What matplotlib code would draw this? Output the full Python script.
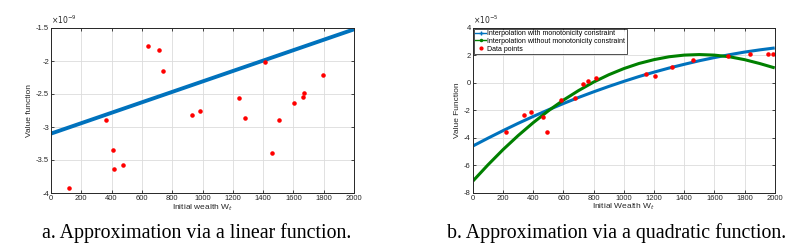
import matplotlib as mpl
mpl.use('Agg')
import numpy as np
import matplotlib.pyplot as plt
from matplotlib.ticker import FuncFormatter

plt.rcParams['font.family'] = ['Liberation Sans', 'DejaVu Sans']
plt.rcParams['axes.unicode_minus'] = False

# ---- panel a: linear approximation (values in units of 1e-9)
wa = [121, 361, 409, 414, 475, 638, 713, 741, 933, 981,
      1239, 1283, 1412, 1461, 1505, 1604, 1663, 1672, 1797]
va = [-3.92, -2.89, -3.35, -3.64, -3.57, -1.77, -1.84, -2.15, -2.82, -2.75,
      -2.56, -2.87, -2.01, -3.39, -2.89, -2.63, -2.54, -2.48, -2.21]
lin_w = [0, 2000]
lin_v = [-3.10, -1.52]

# ---- panel b: quadratic approximation (values in units of 1e-5)
wb = [219, 340, 385, 464, 488, 586, 674, 731, 762, 815,
      1145, 1204, 1319, 1456, 1693, 1834, 1953, 1991]
vb = [-3.59, -2.33, -2.11, -2.50, -3.61, -1.26, -1.09, -0.07, 0.12, 0.32,
      0.61, 0.51, 1.14, 1.62, 1.92, 2.06, 2.11, 2.11]
fit_w = [0, 100, 200, 300, 400, 500, 600, 700, 800, 900, 1000,
         1100, 1200, 1300, 1400, 1500, 1600, 1700, 1800, 1900, 2000]
mono_v = [-4.60, -4.03, -3.48, -2.95, -2.45, -1.97, -1.51, -1.07, -0.66, -0.27,
          0.10, 0.45, 0.77, 1.07, 1.34, 1.60, 1.83, 2.04, 2.23, 2.39, 2.53]
free_v = [-7.15, -5.97, -4.86, -3.84, -2.90, -2.04, -1.26, -0.57, 0.05, 0.58,
          1.03, 1.40, 1.68, 1.89, 2.01, 2.05, 2.01, 1.89, 1.68, 1.40, 1.08]

blue = '#0072BD'
green = '#008000'
red = '#FF0000'
axcol = '#262626'
fs = 5.5

fig = plt.figure(figsize=(8.07, 2.5), dpi=100)
ax1 = fig.add_axes([0.0632, 0.228, 0.3755, 0.66])
ax2 = fig.add_axes([0.586, 0.229, 0.374, 0.66])

def style(ax):
    ax.grid(True, color='#dcdcdc', linewidth=0.6)
    ax.set_axisbelow(True)
    ax.tick_params(direction='in', top=True, right=True, length=2.5,
                   width=0.6, labelsize=fs, colors=axcol, pad=1.5)
    for s in ax.spines.values():
        s.set_linewidth(0.7)
        s.set_color(axcol)

fmt = FuncFormatter(lambda v, p: '%g' % v)

# panel a
ax1.plot(lin_w, lin_v, color=blue, linewidth=2.8, solid_capstyle='butt')
ax1.plot(wa, va, '.', color=red, markersize=4.5)
ax1.set_xlim(0, 2000)
ax1.set_ylim(-4, -1.5)
ax1.set_xticks(np.arange(0, 2001, 200))
ax1.set_yticks([-4, -3.5, -3, -2.5, -2, -1.5])
ax1.yaxis.set_major_formatter(fmt)
style(ax1)
ax1.set_xlabel('Initial wealth W$_t$', fontsize=6, color=axcol, labelpad=0)
ax1.set_ylabel('Value function', fontsize=6, color=axcol, labelpad=2)
ax1.text(0.0, 1.01, r'$\times 10^{-9}$', transform=ax1.transAxes,
         fontsize=5.5, color=axcol, ha='left', va='bottom')

# panel b
ax2.plot(fit_w, mono_v, color=blue, linewidth=2.2, solid_capstyle='butt')
ax2.plot(fit_w, free_v, color=green, linewidth=2.2, solid_capstyle='butt')
ax2.plot(wb, vb, '.', color=red, markersize=4.5)
ax2.set_xlim(0, 2000)
ax2.set_ylim(-8, 4)
ax2.set_xticks(np.arange(0, 2001, 200))
ax2.set_yticks(np.arange(-8, 5, 2))
ax2.yaxis.set_major_formatter(fmt)
style(ax2)
ax2.set_xlabel('Initial Wealth W$_t$', fontsize=6, color=axcol, labelpad=0)
ax2.set_ylabel('Value Function', fontsize=6, color=axcol, labelpad=2)
ax2.text(0.0, 1.01, r'$\times 10^{-5}$', transform=ax2.transAxes,
         fontsize=5.5, color=axcol, ha='left', va='bottom')

labels = ['Interpolation with monotonicity constraint',
          'Interpolation without monotonicity constraint',
          'Data points']
leg = ax2.legend(handles=[plt.Line2D([], [], color=blue, lw=1, marker='+', ms=3),
                          plt.Line2D([], [], color=green, lw=1, marker='.', ms=3),
                          plt.Line2D([], [], color=red, lw=0, marker='.', ms=4)],
                 labels=labels, loc='upper left', fontsize=5, frameon=True,
                 fancybox=False, edgecolor='black', borderpad=0.2,
                 labelspacing=0.1, handlelength=1.5, handletextpad=0.2,
                 borderaxespad=0.15)
leg.get_frame().set_linewidth(0.6)

fig.text(0.244, 0.066, 'a. Approximation via a linear function.',
         family=['Liberation Serif'], fontsize=14.3, ha='center', va='center')
fig.text(0.7645, 0.066, 'b. Approximation via a quadratic function.',
         family=['Liberation Serif'], fontsize=14.3, ha='center', va='center')

plt.savefig('out.png', dpi=100)
